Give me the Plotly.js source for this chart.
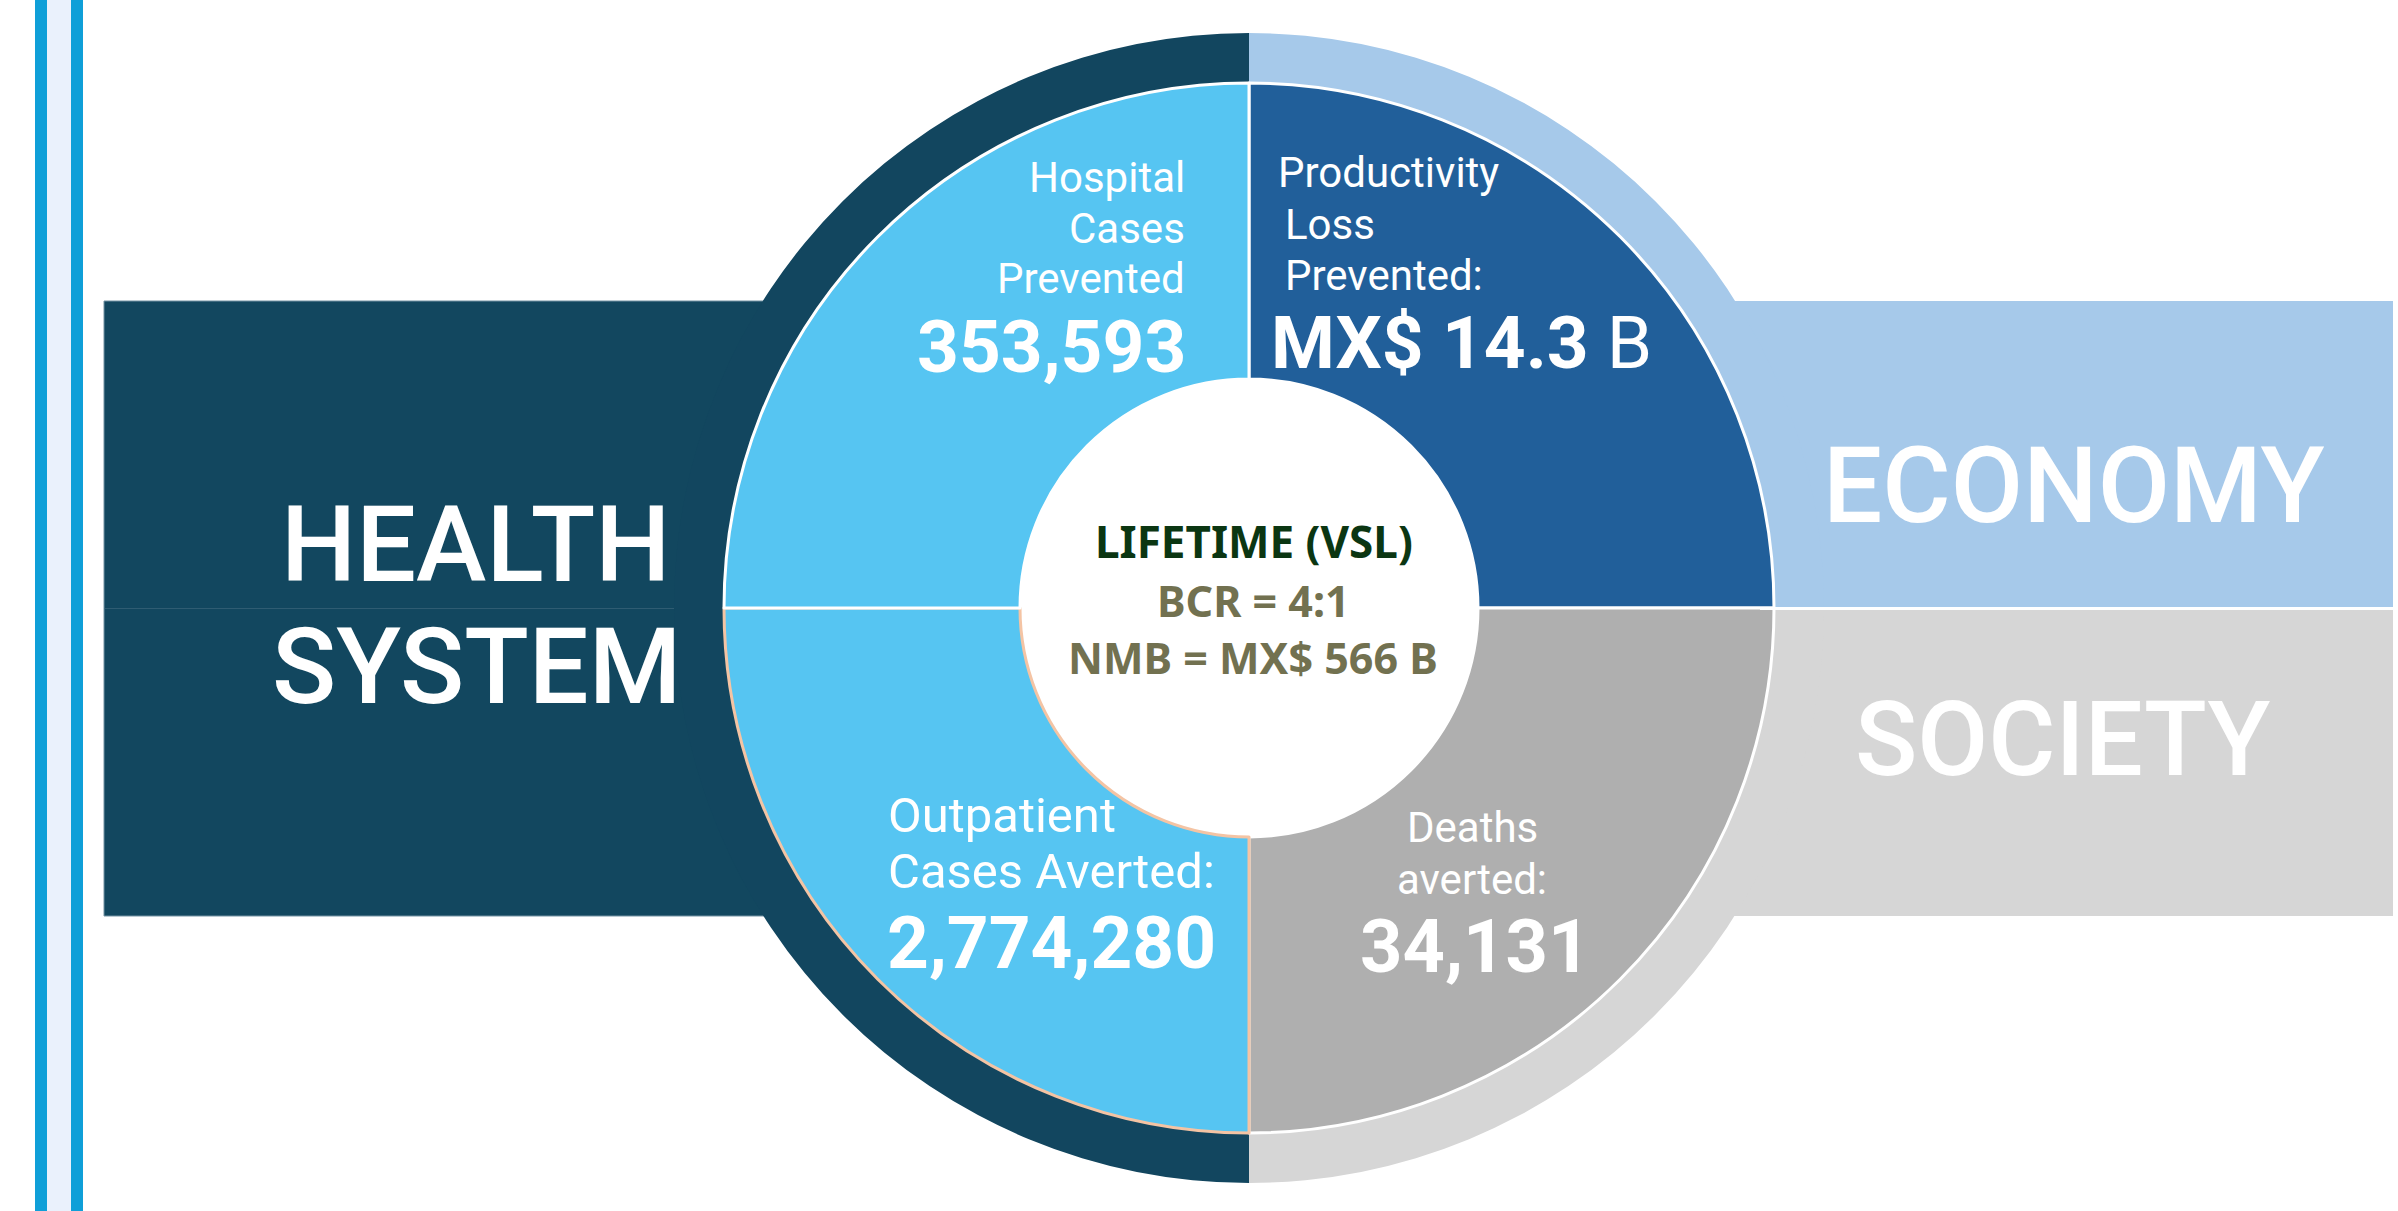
<!DOCTYPE html>
<html>
<head>
<meta charset="utf-8">
<script src="https://cdn.plot.ly/plotly-3.0.1.min.js"></script>
<style>
  html, body { margin: 0; padding: 0; background: #ffffff; }
  #chart { width: 2398px; height: 1211px; }
</style>
</head>
<body>
<div id="chart"></div>
<script>
// ---------------- DATA ----------------
const ringLabels = ["Economy", "Society", "Health System"];
const ringValues = [1, 1, 2];

const sliceLabels = ["Productivity Loss Prevented", "Deaths averted", "Outpatient Cases Averted", "Hospital Cases Prevented"];
const sliceValues = [1, 1, 1, 1];

const hospitalLabel = ["Hospital", "Cases", "Prevented"];
const hospitalValue = "353,593";
const productivityLabel = ["Productivity", "Loss", "Prevented:"];
const productivityValue = "MX$ 14.3 B";
const outpatientLabel = ["Outpatient", "Cases Averted:"];
const outpatientValue = "2,774,280";
const deathsLabel = ["Deaths", "averted:"];
const deathsValue = "34,131";

const centerTitle = "LIFETIME (VSL)";
const centerMetrics = ["BCR = 4:1", "NMB = MX$ 566 B"];

const leftSector = ["HEALTH", "SYSTEM"];
const rightSectors = ["ECONOMY", "SOCIETY"];

// ---------------- LAYOUT HELPERS ----------------
const W = 2398, H = 1211;
const px = x => x / W;
const py = y => 1 - y / H;
const CX = 1249, CY = 608;
const R_OUT = 575, R_IN = 525, R_HOLE = 229;

function domainFor(r) {
  return { x: [px(CX - r), px(CX + r)], y: [py(CY + r), py(CY - r)] };
}

const ringColors = ["#A6C9EA", "#D6D6D6", "#12465F"];
const sliceColors = ["#215F9A", "#AFAFAF", "#56C5F2", "#56C5F2"];
const sliceLineColors = ["#ffffff", "#ffffff", "#F4C4A4", "#ffffff"];

const traces = [
  {
    type: "pie", labels: ringLabels, values: ringValues, sort: false,
    direction: "clockwise", rotation: 0, hole: R_IN / R_OUT,
    marker: { colors: ringColors, line: { width: 0 } },
    textinfo: "none", hoverinfo: "skip", showlegend: false,
    domain: domainFor(R_OUT)
  },
  {
    type: "pie", labels: sliceLabels, values: sliceValues, sort: false,
    direction: "clockwise", rotation: 0, hole: R_HOLE / R_IN,
    marker: { colors: sliceColors, line: { color: sliceLineColors, width: 3 } },
    textinfo: "none", hoverinfo: "skip", showlegend: false,
    domain: domainFor(R_IN)
  }
];

function rect(x0, y0, x1, y1, fill, line, layer) {
  return {
    type: "rect", xref: "paper", yref: "paper",
    x0: px(x0), x1: px(x1), y0: py(y1), y1: py(y0),
    fillcolor: fill, line: line || { width: 0 }, layer: layer || "below"
  };
}
function hline(x0, x1, y, color, width, layer) {
  return {
    type: "line", xref: "paper", yref: "paper",
    x0: px(x0), x1: px(x1), y0: py(y), y1: py(y),
    line: { color: color, width: width }, layer: layer || "below"
  };
}

const shapes = [
  rect(35, 0, 47, H, "#0F9FD8"),
  rect(47, 0, 71, H, "#EAF1FC"),
  rect(71, 0, 83, H, "#0F9FD8"),
  rect(104, 301, 800, 916, "#12475F", { color: "#7392A3", width: 1 }),
  hline(105, 760, 608.5, "#2F5C72", 1),
  rect(1700, 301, 2393, 607, "#A6C9EA"),
  rect(1700, 610, 2393, 916, "#D6D6D6"),
  hline(1760, 2393, 608.5, "#ffffff", 3, "above")
];

const WHITE = "#ffffff";
function ann(text, x, y, xanchor, size, color, family, bold, weight) {
  const font = { family: family || "Roboto", size: size, color: color || WHITE };
  if (weight) font.weight = weight;
  return {
    text: bold ? "<b>" + text + "</b>" : text,
    x: px(x), y: py(y), xref: "paper", yref: "paper",
    xanchor: xanchor, yanchor: "middle", showarrow: false,
    font: font
  };
}

const annotations = [];
// Health system / economy / society labels
const leftYs = [545, 667];
leftSector.forEach((t, i) => annotations.push(ann(t, 476, leftYs[i], "center", 106, WHITE, "Roboto", false, 500)));
annotations.push(ann(rightSectors[0], 2074, 486, "center", 105, WHITE, "Roboto", false, 500));
annotations.push(ann(rightSectors[1], 2063, 739, "center", 103, WHITE, "Roboto", false, 500));

// Hospital (top-left, right aligned)
const hospYs = [178, 228, 278];
hospitalLabel.forEach((t, i) => annotations.push(ann(t, 1187, hospYs[i], "right", 42)));
annotations.push(ann(hospitalValue, 1188, 347, "right", 73, WHITE, "Roboto", true));

// Productivity (top-right, left aligned)
const prodYs = [173, 224, 275];
const prodXs = [1276, 1283, 1283];
productivityLabel.forEach((t, i) => annotations.push(ann(t, prodXs[i], prodYs[i], "left", 42)));
const pv = productivityValue.lastIndexOf(" ");
annotations.push(ann("<b>" + productivityValue.slice(0, pv) + "</b>" + productivityValue.slice(pv),
  1269, 343, "left", 73));

// Outpatient (bottom-left)
const outYs = [815, 871];
outpatientLabel.forEach((t, i) => annotations.push(ann(t, 886, outYs[i], "left", 49)));
annotations.push(ann(outpatientValue, 885, 943, "left", 73, WHITE, "Roboto", true));

// Deaths (bottom-right)
const deathYs = [827, 879];
deathsLabel.forEach((t, i) => annotations.push(ann(t, 1472, deathYs[i], "center", 42)));
annotations.push(ann(deathsValue, 1475, 946, "center", 74, WHITE, "Roboto", true));

// Center
annotations.push(ann(centerTitle, 1254, 541, "center", 44, "#0B3612", "Noto Sans", true));
const cYs = [600, 657];
centerMetrics.forEach((t, i) => annotations.push(ann(t, 1253, cYs[i], "center", 43, "#727150", "Noto Sans", true)));

const layout = {
  width: W, height: H,
  margin: { l: 0, r: 0, t: 0, b: 0, pad: 0 },
  paper_bgcolor: "#ffffff", plot_bgcolor: "#ffffff",
  showlegend: false,
  shapes: shapes,
  annotations: annotations
};

Plotly.newPlot("chart", traces, layout, { staticPlot: true, displayModeBar: false });
</script>
</body>
</html>
